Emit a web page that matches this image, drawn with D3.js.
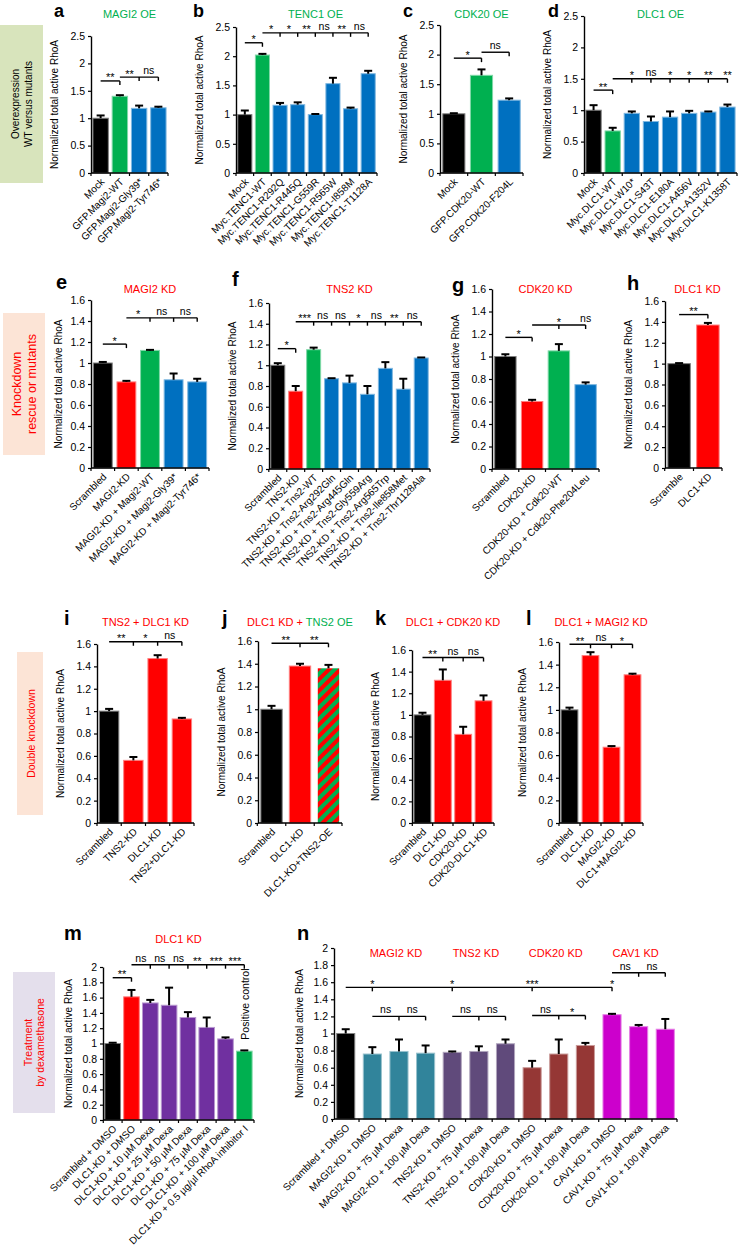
<!DOCTYPE html>
<html>
<head>
<meta charset="utf-8">
<title>Normalized total active RhoA</title>
<script src="https://cdn.jsdelivr.net/npm/d3@7"></script>
<style>
  body { margin: 0; background: #fff; }
  svg { font-family: "Liberation Sans", Arial, Helvetica, sans-serif; }
</style>
</head>
<body>
<svg id="mainsvg" width="739" height="1251"></svg>
<script>
// ---------- data (errs = upper error bar length) ----------
const aCats = ['Mock', 'GFP.Magi2-WT', 'GFP.Magi2-Gly39*', 'GFP.Magi2-Tyr746*'];
const aVals = [1.0, 1.4, 1.18, 1.19];
const aErrs = [0.05, 0.02, 0.05, 0.02];

const bCats = ['Mock', 'Myc.TENC1-WT', 'Myc.TENC1-R292Q', 'Myc.TENC1-R445Q', 'Myc.TENC1-G559R',
  'Myc.TENC1-R565W', 'Myc.TENC1-I858M', 'Myc.TENC1-T1128A'];
const bVals = [1.0, 2.02, 1.16, 1.17, 1.0, 1.53, 1.1, 1.7];
const bErrs = [0.07, 0.02, 0.04, 0.04, 0.01, 0.1, 0.02, 0.05];

const cCats = ['Mock', 'GFP.CDK20-WT', 'GFP.CDK20-F204L'];
const cVals = [1.0, 1.65, 1.23];
const cErrs = [0.01, 0.1, 0.03];

const dCats = ['Mock', 'Myc.DLC1-WT', 'Myc.DLC1-W10*', 'Myc.DLC1-S43T', 'Myc.DLC1-E180A',
  'Myc.DLC1-A456V', 'Myc.DLC1-A1352V', 'Myc.DLC1-K1358T'];
const dVals = [1.0, 0.67, 0.95, 0.82, 0.89, 0.95, 0.97, 1.05];
const dErrs = [0.08, 0.05, 0.03, 0.08, 0.09, 0.04, 0.01, 0.04];

const eCats = ['Scrambled', 'MAGI2-KD', 'MAGI2-KD + Magi2-WT', 'MAGI2-KD + Magi2-Gly39*', 'MAGI2-KD + Magi2-Tyr746*'];
const eVals = [1.0, 0.82, 1.12, 0.84, 0.82];
const eErrs = [0.01, 0.01, 0.005, 0.06, 0.03];

const fCats = ['Scrambled', 'TNS2-KD', 'TNS2-KD + Tns2-WT', 'TNS2-KD + Tns2-Arg292Gln', 'TNS2-KD + Tns2-Arg445Gln',
  'TNS2-KD + Tns2-Gly559Arg', 'TNS2-KD + Tns2-Arg565Trp', 'TNS2-KD + Tns2-Ile858Met', 'TNS2-KD + Tns2-Thr1128Ala'];
const fVals = [1.0, 0.75, 1.15, 0.87, 0.83, 0.72, 0.97, 0.77, 1.07];
const fErrs = [0.02, 0.05, 0.02, 0.005, 0.07, 0.08, 0.06, 0.1, 0.005];

const gCats = ['Scrambled', 'CDK20-KD', 'CDK20-KD + Cdk20-WT', 'CDK20-KD + Cdk20-Phe204Leu'];
const gVals = [1.0, 0.6, 1.05, 0.75];
const gErrs = [0.02, 0.015, 0.06, 0.02];

const hCats = ['Scramble', 'DLC1-KD'];
const hVals = [1.0, 1.37];
const hErrs = [0.005, 0.02];

const iCats = ['Scrambled', 'TNS2-KD', 'DLC1-KD', 'TNS2+DLC1-KD'];
const iVals = [1.0, 0.56, 1.47, 0.93];
const iErrs = [0.02, 0.03, 0.03, 0.01];

const jCats = ['Scrambled', 'DLC1-KD', 'DLC1-KD+TNS2-OE'];
const jVals = [1.0, 1.38, 1.36];
const jErrs = [0.03, 0.02, 0.03];

const kCats = ['Scrambled', 'DLC1-KD', 'CDK20-KD', 'CDK20-DLC1-KD'];
const kVals = [1.0, 1.32, 0.82, 1.13];
const kErrs = [0.02, 0.1, 0.07, 0.05];

const lCats = ['Scrambled', 'DLC1-KD', 'MAGI2-KD', 'DLC1+MAGI2-KD'];
const lVals = [1.0, 1.48, 0.67, 1.31];
const lErrs = [0.02, 0.03, 0.01, 0.01];

const mCats = ['Scrambled + DMSO', 'DLC1-KD + DMSO', 'DLC1-KD + 10 µM Dexa', 'DLC1-KD + 25 µM Dexa',
  'DLC1-KD + 50 µM Dexa', 'DLC1-KD + 75 µM Dexa', 'DLC1-KD + 100 µM Dexa', 'DLC1-KD + 0.5 µg/µl RhoA inhibitor I'];
const mVals = [1.0, 1.61, 1.53, 1.5, 1.34, 1.21, 1.06, 0.9];
const mErrs = [0.01, 0.09, 0.04, 0.23, 0.07, 0.13, 0.02, 0.01];

const nCats = ['Scrambled + DMSO', 'MAGI2-KD + DMSO', 'MAGI2-KD + 75 µM Dexa', 'MAGI2-KD + 100 µM Dexa',
  'TNS2-KD + DMSO', 'TNS2-KD + 75 µM Dexa', 'TNS2-KD + 100 µM Dexa',
  'CDK20-KD + DMSO', 'CDK20-KD + 75 µM Dexa', 'CDK20-KD + 100 µM Dexa',
  'CAV1-KD + DMSO', 'CAV1-KD + 75 µM Dexa', 'CAV1-KD + 100 µM Dexa'];
const nVals = [1.0, 0.76, 0.79, 0.77, 0.78, 0.79, 0.88, 0.6, 0.76, 0.86, 1.22, 1.08, 1.05];
const nErrs = [0.05, 0.08, 0.14, 0.09, 0.01, 0.06, 0.05, 0.08, 0.17, 0.03, 0.01, 0.02, 0.12];
const nGroups = ['MAGI2 KD', 'TNS2 KD', 'CDK20 KD', 'CAV1 KD'];

// ---------- colours ----------
const BLK = '#000000', GRN = '#00b050', BLU = '#0070c0', RED = '#ff0000', PUR = '#7030a0',
  TEAL = '#31849b', VIO = '#604a7b', BRN = '#953735', MAG = '#cc00cc';

const svg = d3.select('#mainsvg');
const defs = svg.append('defs');
const pat = defs.append('pattern').attr('id', 'stripes').attr('patternUnits', 'userSpaceOnUse')
  .attr('width', 8).attr('height', 8).attr('patternTransform', 'rotate(45)');
pat.append('rect').attr('width', 4).attr('height', 8).attr('fill', RED);
pat.append('rect').attr('x', 4).attr('width', 4).attr('height', 8).attr('fill', GRN);

// row labels at the left
const sideBoxes = [
  {x: 0, y: 25, w: 43, h: 158, fill: '#d8e4bc', color: BLK, size: 10, lines: ['Overexpression', 'WT versus mutants'], lx: [15, 28]},
  {x: 3, y: 313, w: 42, h: 142, fill: '#fce4d6', color: RED, size: 12.5, lines: ['Knockdown', 'rescue or mutants'], lx: [17, 32]},
  {x: 17, y: 652, w: 26, h: 163, fill: '#fce4d6', color: RED, size: 10.5, lines: ['Double knockdown'], lx: [31]},
  {x: 13, y: 972, w: 42, h: 141, fill: '#e4dfec', color: RED, size: 10.5, lines: ['Treatment', 'by dexamethasone'], lx: [28, 40]}
];
sideBoxes.forEach(b => {
  svg.append('rect').attr('x', b.x).attr('y', b.y).attr('width', b.w).attr('height', b.h).attr('fill', b.fill);
  b.lines.forEach((t, i) => {
    svg.append('text').attr('transform', `translate(${b.lx[i]},${b.y + b.h / 2}) rotate(-90)`)
      .attr('text-anchor', 'middle').attr('dy', '0.35em').attr('font-size', b.size)
      .attr('fill', b.color).text(t);
  });
});

// ---------- panel layout ----------
const panels = [
  {letter: 'a', lx: 54, ly: 17, ls: 18, cats: aCats, vals: aVals, errs: aErrs, colors: [BLK, GRN, BLU, BLU],
   x0: 91, x1: 168, yTop: 36, yBot: 173, yMax: 2.5, yStep: 0.5, pad: 0.2,
   title: [['MAGI2 OE', GRN]], ty: 18,
   brackets: [{from: 0, to: [1], y: 1.68, labels: ['**']}, {from: 1, to: [2, 3], y: 1.75, labels: ['**', 'ns']}]},
  {letter: 'b', lx: 193, ly: 17, ls: 18, cats: bCats, vals: bVals, errs: bErrs, colors: [BLK, GRN, BLU, BLU, BLU, BLU, BLU, BLU],
   x0: 236, x1: 377, yTop: 27, yBot: 173, yMax: 2.5, yStep: 0.5, pad: 0.2,
   title: [['TENC1 OE', GRN]], ty: 18, tdx: 9,
   brackets: [{from: 0, to: [1], y: 2.23, labels: ['*']},
     {from: 1, to: [2, 3, 4, 5, 6, 7], y: 2.4, labels: ['*', '*', '**', 'ns', '**', 'ns']}]},
  {letter: 'c', lx: 403, ly: 17, ls: 18, cats: cCats, vals: cVals, errs: cErrs, colors: [BLK, GRN, BLU],
   x0: 440, x1: 523, yTop: 25, yBot: 173, yMax: 2.5, yStep: 0.5, pad: 0.2,
   title: [['CDK20 OE', GRN]], ty: 18,
   brackets: [{from: 0, to: [1], y: 1.94, labels: ['*']}, {from: 1, to: [2], y: 2.04, labels: ['ns']}]},
  {letter: 'd', lx: 548, ly: 17, ls: 18, cats: dCats, vals: dVals, errs: dErrs, colors: [BLK, GRN, BLU, BLU, BLU, BLU, BLU, BLU],
   x0: 584, x1: 737, yTop: 16, yBot: 173, yMax: 2.5, yStep: 0.5, pad: 0.2,
   title: [['DLC1 OE', GRN]], ty: 18,
   brackets: [{from: 0, to: [1], y: 1.32, labels: ['**']},
     {from: 1, to: [2, 3, 4, 5, 6, 7], y: 1.5, labels: ['*', 'ns', '*', '*', '**', '**'], over: true}]},
  {letter: 'e', lx: 56, ly: 289, cats: eCats, vals: eVals, errs: eErrs, colors: [BLK, RED, GRN, BLU, BLU],
   x0: 91, x1: 209, yTop: 300, yBot: 468, yMax: 1.6, yStep: 0.2, pad: 0.2, ylabDx: -29,
   title: [['MAGI2 KD', RED]], ty: 293,
   brackets: [{from: 0, to: [1], y: 1.18, labels: ['*']}, {from: 1, to: [2, 3, 4], y: 1.43, labels: ['*', 'ns', 'ns']}]},
  {letter: 'f', lx: 232, ly: 286, cats: fCats, vals: fVals, errs: fErrs,
   colors: [BLK, RED, GRN, BLU, BLU, BLU, BLU, BLU, BLU],
   x0: 269, x1: 430, yTop: 303, yBot: 469, yMax: 1.6, yStep: 0.2, pad: 0.22,
   title: [['TNS2 KD', RED]], ty: 293,
   brackets: [{from: 0, to: [1], y: 1.16, labels: ['*']},
     {from: 1, to: [2, 3, 4, 5, 6, 7, 8], y: 1.42, labels: ['***', 'ns', 'ns', '*', 'ns', '**', 'ns']}]},
  {letter: 'g', lx: 452, ly: 292, cats: gCats, vals: gVals, errs: gErrs, colors: [BLK, RED, GRN, BLU],
   x0: 492, x1: 599, yTop: 289, yBot: 469, yMax: 1.6, yStep: 0.2, pad: 0.2,
   title: [['CDK20 KD', RED]], ty: 293,
   brackets: [{from: 0, to: [1], y: 1.17, labels: ['*']}, {from: 1, to: [2, 3], y: 1.28, labels: ['*', 'ns'], over: true}]},
  {letter: 'h', lx: 627, ly: 290, cats: hCats, vals: hVals, errs: hErrs, colors: [BLK, RED],
   x0: 665, x1: 722, yTop: 301, yBot: 468, yMax: 1.6, yStep: 0.2, pad: 0.22,
   title: [['DLC1 KD', RED]], ty: 293, tdx: 4,
   brackets: [{from: 0, to: [1], y: 1.47, labels: ['**']}]},
  {letter: 'i', lx: 64, ly: 625, cats: iCats, vals: iVals, errs: iErrs, colors: [BLK, RED, RED, RED],
   x0: 97, x1: 194, yTop: 644, yBot: 823, yMax: 1.6, yStep: 0.2, pad: 0.2,
   title: [['TNS2 + DLC1 KD', RED]], ty: 626,
   brackets: [{from: 0, to: [1, 2, 3], y: 1.62, labels: ['**', '*', 'ns']}]},
  {letter: 'j', lx: 222, ly: 625, cats: jCats, vals: jVals, errs: jErrs, colors: [BLK, RED, 'url(#stripes)'],
   x0: 258, x1: 342, yTop: 641, yBot: 823, yMax: 1.6, yStep: 0.2, pad: 0.25,
   title: [['DLC1 KD + ', RED], ['TNS2 OE', GRN]], ty: 626,
   brackets: [{from: 0, to: [1, 2], y: 1.58, labels: ['**', '**']}]},
  {letter: 'k', lx: 375, ly: 625, cats: kCats, vals: kVals, errs: kErrs, colors: [BLK, RED, RED, RED],
   x0: 412, x1: 494, yTop: 650, yBot: 823, yMax: 1.6, yStep: 0.2, pad: 0.17,
   title: [['DLC1 + CDK20 KD', RED]], ty: 626,
   brackets: [{from: 0, to: [1, 2, 3], y: 1.53, labels: ['**', 'ns', 'ns']}]},
  {letter: 'l', lx: 526, ly: 625, cats: lCats, vals: lVals, errs: lErrs, colors: [BLK, RED, RED, RED],
   x0: 559, x1: 643, yTop: 642, yBot: 823, yMax: 1.6, yStep: 0.2, pad: 0.2,
   title: [['DLC1 + MAGI2 KD', RED]], ty: 626,
   brackets: [{from: 0, to: [1, 2, 3], y: 1.58, labels: ['**', 'ns', '*']}]},
  {letter: 'm', lx: 64, ly: 940, cats: mCats, vals: mVals, errs: mErrs, colors: [BLK, RED, PUR, PUR, PUR, PUR, PUR, GRN],
   x0: 103, x1: 254, yTop: 967, yBot: 1120, yMax: 2, yStep: 0.2, pad: 0.17, ylabDx: -31,
   title: [['DLC1 KD', RED]], ty: 943,
   brackets: [{from: 0, to: [1], y: 1.86, labels: ['**']},
     {from: 1, to: [2, 3, 4, 5, 6, 7], y: 2.03, labels: ['ns', 'ns', 'ns', '**', '***', '***']}],
   note: {text: 'Positive control', idx: 7, y: 1.05}},
  {letter: 'n', lx: 297, ly: 940, cats: nCats, vals: nVals, errs: nErrs,
   colors: [BLK, TEAL, TEAL, TEAL, VIO, VIO, VIO, BRN, BRN, BRN, MAG, MAG, MAG],
   x0: 334, x1: 677, yTop: 948, yBot: 1119, yMax: 2, yStep: 0.2, pad: 0.32, ylabDx: -31,
   groups: {names: nGroups, mid: [2, 5, 8, 11], ty: 957},
   brackets: [{from: 0, to: [1, 4, 7, 10], y: 1.54, labels: ['*', '*', '***', '*'], over: true},
     {from: 1, to: [2, 3], y: 1.2, labels: ['ns', 'ns']},
     {from: 4, to: [5, 6], y: 1.2, labels: ['ns', 'ns']},
     {from: 7, to: [8, 9], y: 1.21, labels: ['ns', '*']},
     {from: 10, to: [11, 12], y: 1.71, labels: ['ns', 'ns']}]}
];

const fmt = v => String(+v.toFixed(2));

panels.forEach(p => {
  const g = svg.append('g');
  const xScale = d3.scaleBand().domain(p.cats).range([p.x0, p.x1]).paddingInner(p.pad).paddingOuter(0.1);
  const yScale = d3.scaleLinear().domain([0, p.yMax]).range([p.yBot, p.yTop]);
  const step = xScale.step(), bw = xScale.bandwidth();
  const cx = i => xScale(p.cats[i]) + bw / 2;

  // panel letter
  g.append('text').attr('x', p.lx).attr('y', p.ly).attr('font-size', p.ls || 20).attr('font-weight', 'bold').text(p.letter);

  // title
  if (p.title) {
    const t = g.append('text').attr('x', (p.x0 + p.x1) / 2 + (p.tdx || 0)).attr('y', p.ty)
      .attr('text-anchor', 'middle').attr('font-size', 11);
    p.title.forEach(s => t.append('tspan').attr('fill', s[1]).text(s[0]));
  }
  if (p.groups) {
    p.groups.names.forEach((nm, k) => {
      g.append('text').attr('x', cx(p.groups.mid[k]) - 3).attr('y', p.groups.ty).attr('text-anchor', 'middle')
        .attr('font-size', 11).attr('fill', RED).text(nm);
    });
  }

  // bars
  g.selectAll('rect.bar').data(p.vals).join('rect').attr('class', 'bar')
    .attr('x', (d, i) => xScale(p.cats[i])).attr('width', bw)
    .attr('y', d => yScale(d)).attr('height', d => p.yBot - yScale(d))
    .attr('fill', (d, i) => p.colors[i])
    .attr('stroke', (d, i) => p.colors[i].startsWith('url') ? 'none' : d3.interpolateRgb(p.colors[i], '#ffffff')(0.5))
    .attr('stroke-width', 1);

  // error bars (upper only)
  p.vals.forEach((v, i) => {
    const x = cx(i), yv = yScale(v), ye = yScale(v + p.errs[i]);
    g.append('line').attr('x1', x).attr('x2', x).attr('y1', yv).attr('y2', ye).attr('stroke', '#000').attr('stroke-width', 2);
    g.append('line').attr('x1', x - 4).attr('x2', x + 4).attr('y1', ye).attr('y2', ye).attr('stroke', '#000').attr('stroke-width', 2);
  });

  // y axis
  const nT = Math.round(p.yMax / p.yStep);
  const yAxis = d3.axisLeft(yScale).tickValues(d3.range(nT + 1).map(k => +(k * p.yStep).toFixed(2)))
    .tickFormat(fmt).tickSize(3).tickSizeOuter(0).tickPadding(3);
  const ya = g.append('g').attr('transform', `translate(${p.x0},0)`).call(yAxis);
  ya.select('.domain').attr('stroke-width', 1.4);
  ya.selectAll('.tick line').attr('stroke-width', 1.2);
  ya.selectAll('text').attr('font-size', 10.5).attr('font-family', null).attr('fill', '#000');

  // y label
  g.append('text').attr('transform', `translate(${p.x0 + (p.ylabDx || -33)},${(p.yTop + p.yBot) / 2}) rotate(-90)`)
    .attr('text-anchor', 'middle').attr('font-size', 10).text('Normalized total active RhoA');

  // x axis with ticks between bars
  g.append('line').attr('x1', p.x0).attr('x2', p.x1).attr('y1', p.yBot).attr('y2', p.yBot)
    .attr('stroke', '#000').attr('stroke-width', 1.4);
  const bounds = p.cats.map(c => xScale(c) - step * p.pad / 2).concat([p.x1]);
  bounds.forEach(bx => g.append('line').attr('x1', bx).attr('x2', bx).attr('y1', p.yBot).attr('y2', p.yBot + 3)
    .attr('stroke', '#000').attr('stroke-width', 1.2));

  // x labels
  p.cats.forEach((c, i) => {
    g.append('text').attr('transform', `translate(${cx(i) + 2},${p.yBot + 7}) rotate(-45)`)
      .attr('text-anchor', 'end').attr('dy', '0.35em').attr('font-size', 10).text(c);
  });

  // significance brackets
  p.brackets.forEach(b => {
    const yb = yScale(b.y);
    const xs = cx(b.from), xe = cx(b.to[b.to.length - 1]);
    g.append('line').attr('x1', xs).attr('x2', xe).attr('y1', yb).attr('y2', yb).attr('stroke', '#000').attr('stroke-width', 1.4);
    let prev = xs;
    b.to.forEach((ti, k) => {
      const tx = cx(ti);
      g.append('line').attr('x1', tx).attr('x2', tx).attr('y1', yb).attr('y2', yb + 4).attr('stroke', '#000').attr('stroke-width', 1.4);
      const lab = b.labels[k];
      const lxp = b.over ? tx : (prev + tx) / 2;
      const star = lab.includes('*');
      g.append('text').attr('x', lxp).attr('y', star ? yb + 0.5 : yb - 3).attr('text-anchor', 'middle')
        .attr('font-size', star ? 11 : 10.5).text(lab);
      prev = tx;
    });
  });

  if (p.note) {
    g.append('text').attr('transform', `translate(${cx(p.note.idx) + 5},${yScale(p.note.y)}) rotate(-90)`)
      .attr('font-size', 10.5).text(p.note.text);
  }
});
</script>
</body>
</html>
